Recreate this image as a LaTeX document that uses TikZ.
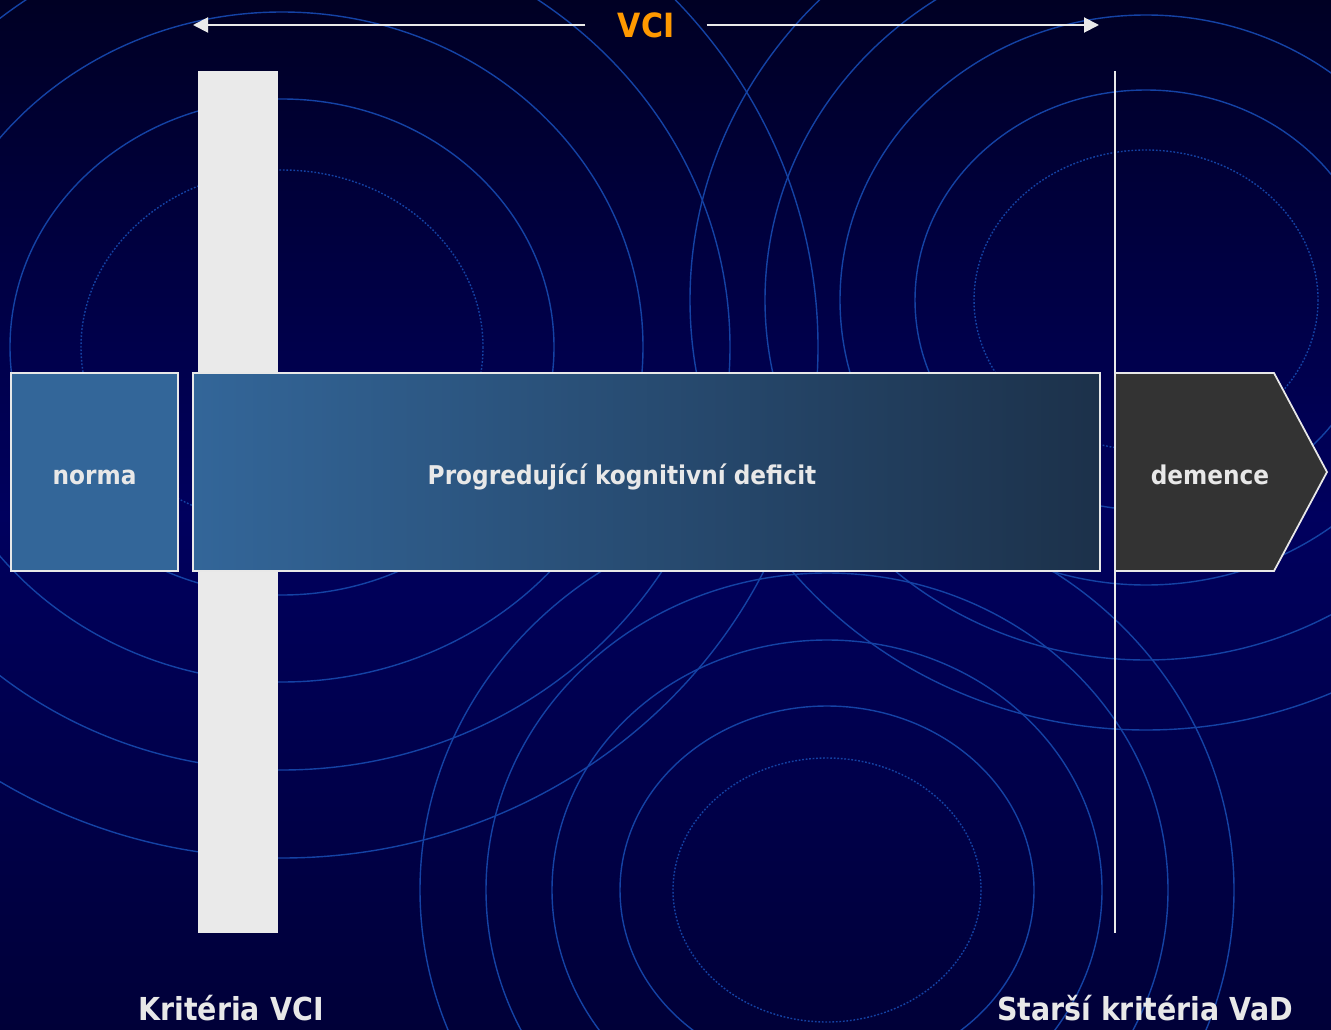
\documentclass[tikz,border=0pt]{standalone}
\usepackage{fontspec}
\setmainfont{DejaVu Sans}[FakeStretch=0.9]
\usetikzlibrary{arrows.meta}

\definecolor{bgtop}{RGB}{0,0,36}
\definecolor{bgmid}{RGB}{0,0,94}
\definecolor{bgbot}{RGB}{0,0,56}
\definecolor{ringblue}{RGB}{20,66,164}
\definecolor{barwhite}{RGB}{234,234,234}
\definecolor{labelgray}{RGB}{232,232,232}
\definecolor{normablue}{RGB}{51,102,153}
\definecolor{deficitdark}{RGB}{28,49,74}
\definecolor{demgray}{RGB}{51,51,51}
\definecolor{vciorange}{RGB}{255,153,0}

\begin{document}
\begin{tikzpicture}[
  x=0.02cm, y=-0.02cm,
  ring/.style={draw=ringblue, line width=0.8pt},
  dotring/.style={ring, dash pattern=on 1pt off 1pt},
  phase/.style={rectangle, draw=labelgray, line width=1pt, minimum height=3.96cm,
                inner sep=0pt, text height=14.6pt, text depth=0pt, text=labelgray,
                font=\fontsize{14.7}{17}\selectfont\bfseries},
  phasetext/.style={phase, draw=none, minimum height=0pt},
  vadline/.style={draw=barwhite, line width=1.1pt},
  criterion/.style={anchor=base, text=labelgray, font=\fontsize{18}{21}\selectfont\bfseries},
  vcispan/.style={draw=barwhite, line width=1.1pt, -{Triangle[length=0.3cm, width=0.3cm]}}
]
\useasboundingbox (0,0) rectangle (1331,1030);

% =======================================================
%                     BACKGROUND
% =======================================================
\shade[top color=bgtop, bottom color=bgbot, middle color=bgmid] (0,0) rectangle (1331,1030);

\begin{scope}
\clip (0,0) rectangle (1331,1030);
% left rings
\draw[dotring] (282,347) ellipse [x radius=201, y radius=177];
\foreach \rx/\ry in {272/248, 361/335, 448/423, 536/511}
  \draw[ring] (282,347) ellipse [x radius=\rx, y radius=\ry];
% right rings
\draw[dotring] (1146,300) ellipse [x radius=172, y radius=150];
\foreach \rx/\ry in {231/210, 306/285, 381/360, 456/430}
  \draw[ring] (1146,300) ellipse [x radius=\rx, y radius=\ry];
% bottom rings
\draw[dotring] (827,890) ellipse [x radius=154, y radius=132];
\foreach \rx/\ry in {207/184, 275/250, 341/317, 407/383}
  \draw[ring] (827,890) ellipse [x radius=\rx, y radius=\ry];
\end{scope}

% =======================================================
%                     CRITERIA MARKERS
% =======================================================
\node[fill=barwhite, minimum width=1.6cm, minimum height=17.24cm, inner sep=0pt] (vcibar) at (238,502) {};

\coordinate (vadtop) at (1115,71);
\coordinate (vadbot) at (1115,933);
\draw[vadline] (vadtop) -- (vadbot);

% =======================================================
%                     PHASES
% =======================================================
\node[phase, fill=normablue, minimum width=3.34cm] (norma) at (94.5,472) {norma};
\node[phase, left color=normablue, right color=deficitdark, minimum width=18.14cm] (deficit) at (646.5,472) {};
\node[phasetext] (deficittext) at (622,472) {Progredující kognitivní deficit};

\draw[draw=labelgray, line width=1pt, fill=demgray]
  (1115,373) -- (1274,373) -- (1327,472) -- (1274,571) -- (1115,571) -- cycle;
\node[phasetext] (demence) at (1210,472) {demence};

% =======================================================
%                     LABELS
% =======================================================
\node[text=vciorange, inner xsep=0.64cm, font=\fontsize{19}{22}\selectfont\bfseries] (vci) at (646,25) {VCI};
\coordinate (vcistart) at (193,25);
\coordinate (vciend) at (1099,25);
\draw[vcispan] (vci.west) -- (vcistart);
\draw[vcispan] (vci.east) -- (vciend);

\node[criterion] (critvci) at (231,1020) {Kritéria VCI};
\node[criterion] (critvad) at (1145,1020) {Starší kritéria VaD};

\end{tikzpicture}
\end{document}
